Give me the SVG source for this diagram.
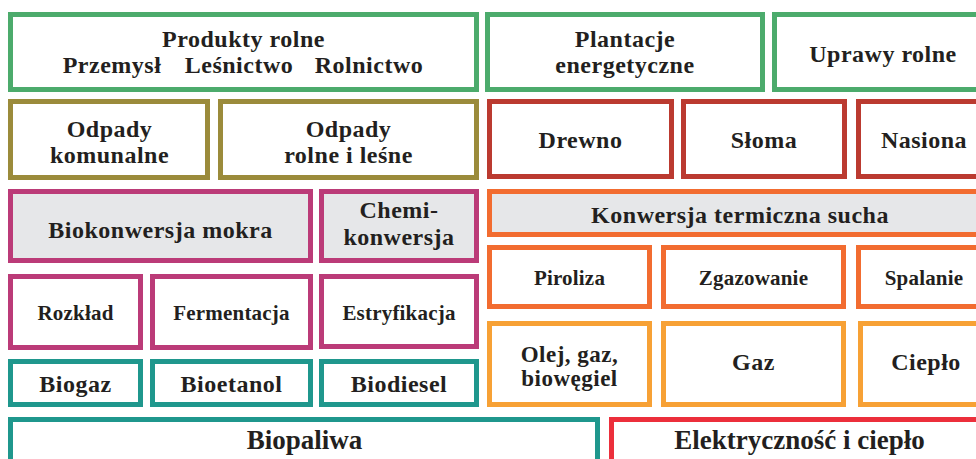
<svg xmlns="http://www.w3.org/2000/svg" width="976" height="459" viewBox="0 0 976 459">
<style>
rect{stroke-width:5;fill:#fff}
.g{stroke:#4cab6c}.o{stroke:#9b8b3b}.r{stroke:#bb3a30}.m{stroke:#bb3b78}.or{stroke:#f26c30}.lo{stroke:#f7a135}.t{stroke:#1f978d}.br{stroke:#ec2f3b}
.f{fill:#e6e7e9}
text{fill:#231f20;text-anchor:middle;font-size:24px;letter-spacing:0.5px}
.s{font-size:21px;letter-spacing:0.2px}.b{font-size:27px;letter-spacing:0}
</style>
<rect width="976" height="459" style="fill:#fff;stroke:none"/>
<g font-family="'Liberation Serif', 'DejaVu Serif', serif" font-weight="bold">
<g id="produkty"><rect class="g" x="10.5" y="14.5" width="466" height="75"/><text x="243.5" y="47">Produkty rolne</text><text x="112" y="73">Przemysł</text><text x="239" y="73">Leśnictwo</text><text x="369" y="73">Rolnictwo</text></g>
<g id="plantacje"><rect class="g" x="487.5" y="14.5" width="275" height="75"/><text x="625" y="47">Plantacje</text><text x="625" y="73">energetyczne</text></g>
<g id="uprawy"><rect class="g" x="774.5" y="14.5" width="217" height="75"/><text x="883" y="62">Uprawy rolne</text></g>
<g id="odpady-kom"><rect class="o" x="10.5" y="101.5" width="197" height="76"/><text x="109.5" y="137">Odpady</text><text x="109.5" y="163">komunalne</text></g>
<g id="odpady-rol"><rect class="o" x="220.5" y="101.5" width="256" height="76"/><text x="348.5" y="137">Odpady</text><text x="348.5" y="163">rolne i leśne</text></g>
<g id="drewno"><rect class="r" x="489.5" y="101.5" width="182" height="75"/><text x="580.5" y="148">Drewno</text></g>
<g id="sloma"><rect class="r" x="683.5" y="101.5" width="161" height="75"/><text x="764" y="148">Słoma</text></g>
<g id="nasiona"><rect class="r" x="858.5" y="101.5" width="135" height="75"/><text x="924" y="148">Nasiona</text></g>
<g id="biokonwersja"><rect class="m f" x="10.5" y="191.5" width="300" height="69"/><text x="160.5" y="238">Biokonwersja mokra</text></g>
<g id="chemi"><rect class="m f" x="321.5" y="191.5" width="155" height="69"/><text x="399" y="218">Chemi-</text><text x="399" y="245">konwersja</text></g>
<g id="termiczna"><rect class="or f" x="489.5" y="191.5" width="505" height="43"/><text x="740" y="223">Konwersja termiczna sucha</text></g>
<g id="piroliza"><rect class="or" x="489.5" y="247.5" width="160" height="59"/><text class="s" x="569.5" y="285">Piroliza</text></g>
<g id="zgazowanie"><rect class="or" x="663.5" y="247.5" width="180" height="59"/><text class="s" x="753.5" y="285">Zgazowanie</text></g>
<g id="spalanie"><rect class="or" x="858.5" y="247.5" width="135" height="59"/><text class="s" x="924" y="285">Spalanie</text></g>
<g id="rozklad"><rect class="m" x="10.5" y="276.5" width="130" height="71"/><text class="s" x="75.5" y="320">Rozkład</text></g>
<g id="fermentacja"><rect class="m" x="152.5" y="276.5" width="158" height="71"/><text class="s" x="231.5" y="320">Fermentacja</text></g>
<g id="estryfikacja"><rect class="m" x="321.5" y="276.5" width="155" height="70"/><text class="s" x="399" y="320">Estryfikacja</text></g>
<g id="olej"><rect class="lo" x="489.5" y="323.5" width="160" height="81"/><text x="569.5" y="362" style="font-size:23px">Olej, gaz,</text><text x="569.5" y="386" style="font-size:23px">biowęgiel</text></g>
<g id="gaz"><rect class="lo" x="663.5" y="323.5" width="180" height="81"/><text x="753.5" y="370">Gaz</text></g>
<g id="cieplo"><rect class="lo" x="860.5" y="323.5" width="135" height="81"/><text x="926" y="370">Ciepło</text></g>
<g id="biogaz"><rect class="t" x="10.5" y="361.5" width="130" height="43"/><text x="75.5" y="392">Biogaz</text></g>
<g id="bioetanol"><rect class="t" x="152.5" y="361.5" width="158" height="43"/><text x="231.5" y="392">Bioetanol</text></g>
<g id="biodiesel"><rect class="t" x="321.5" y="361.5" width="155" height="43"/><text x="399" y="392">Biodiesel</text></g>
<g id="biopaliwa"><rect class="t" x="10.5" y="419.5" width="587" height="60"/><text class="b" x="304.5" y="449">Biopaliwa</text></g>
<g id="elektrycznosc"><rect class="br" x="611.5" y="419.5" width="390" height="60"/><text class="b" x="799.5" y="449">Elektryczność i ciepło</text></g>
</g>
<g id="connectors"></g>
</svg>
